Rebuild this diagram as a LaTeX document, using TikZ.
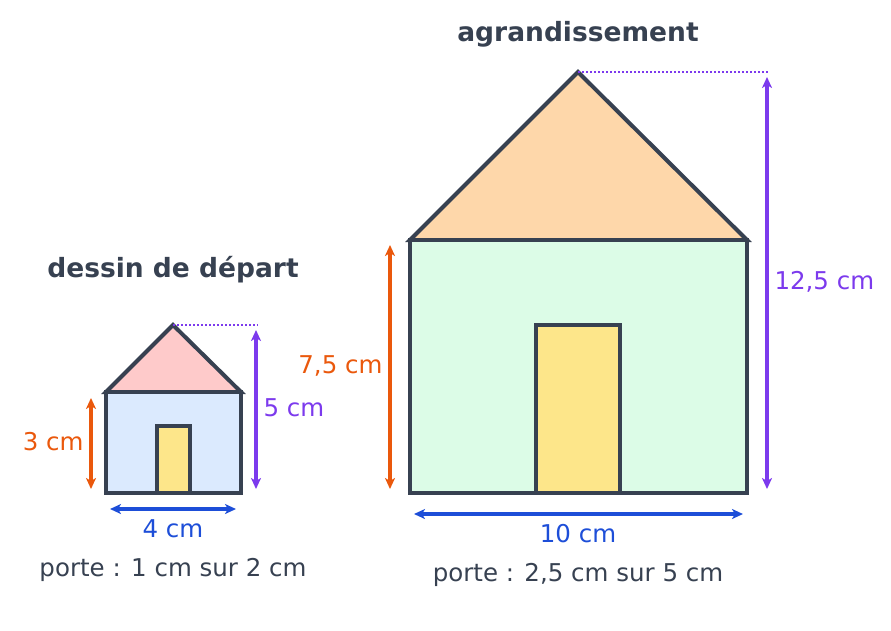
\documentclass[tikz,border=0pt]{standalone}
\usepackage{fontspec}
\setmainfont{DejaVu Sans}
\usepackage{xcolor}
\usetikzlibrary{arrows.meta}

\definecolor{ink}{HTML}{374151}
\definecolor{dimorange}{HTML}{EA580C}
\definecolor{dimpurple}{HTML}{7C3AED}
\definecolor{dimblue}{HTML}{1D4ED8}
\definecolor{wallblue}{HTML}{DBEAFE}
\definecolor{wallgreen}{HTML}{DCFCE7}
\definecolor{roofpink}{HTML}{FECACA}
\definecolor{rooforange}{HTML}{FED7AA}
\definecolor{dooryellow}{HTML}{FDE68A}

\begin{document}
\begin{tikzpicture}[x=1pt,y=-1pt,
  outline/.style={draw=ink,line width=4pt,line join=miter},
  dimline/.style={line width=3.2pt,{Stealth[length=11pt,width=10pt,inset=3pt]}-{Stealth[length=11pt,width=10pt,inset=3pt]}},
  guide/.style={dimpurple,line width=2pt,dotted},
  dimlabel/.style={font=\fontsize{24.5}{28}\selectfont},
  title/.style={font=\fontsize{26.5}{30}\selectfont\bfseries,text=ink}]
\useasboundingbox (0,0) rectangle (891,630);

% Small house
\coordinate (s-apex) at (173,325);
\draw[outline,fill=roofpink] (106,392) -- (s-apex) -- (241,392) -- cycle;
\draw[outline,fill=wallblue] (106,392) rectangle (241,493);
\draw[outline,fill=dooryellow] (157,493) rectangle (190,426);

\coordinate (s-top) at (258,325);
\draw[guide] (s-apex) -- (s-top);

\coordinate (s-wall1) at (91,398);
\coordinate (s-wall2) at (91,489);
\draw[dimline,dimorange] (s-wall1) -- (s-wall2);
\node[dimlabel,text=dimorange,anchor=east] (s-wall) at (87,442) {3 cm};

\coordinate (s-high1) at (256,330);
\coordinate (s-high2) at (256,489);
\draw[dimline,dimpurple] (s-high1) -- (s-high2);
\node[dimlabel,text=dimpurple,anchor=west] (s-high) at (260,408) {5 cm};

\coordinate (s-wide1) at (110,509);
\coordinate (s-wide2) at (236,509);
\draw[dimline,dimblue] (s-wide1) -- (s-wide2);
\node[dimlabel,text=dimblue] (s-wide) at (173,529) {4 cm};

\node[title] (s-title) at (173,270) {dessin de départ};
\node[dimlabel,text=ink] (s-door) at (173,570) {porte : 1 cm sur 2 cm};

% Enlarged house
\coordinate (b-apex) at (578,72);
\draw[outline,fill=rooforange] (410,240) -- (b-apex) -- (747,240) -- cycle;
\draw[outline,fill=wallgreen] (410,240) rectangle (747,493);
\draw[outline,fill=dooryellow] (536,493) rectangle (620,325);

\coordinate (b-top) at (768,72);
\draw[guide] (b-apex) -- (b-top);

\coordinate (b-wall1) at (390,245);
\coordinate (b-wall2) at (390,489);
\draw[dimline,dimorange] (b-wall1) -- (b-wall2);
\node[dimlabel,text=dimorange,anchor=east] (b-wall) at (386,366) {7,5 cm};

\coordinate (b-high1) at (767,77);
\coordinate (b-high2) at (767,489);
\draw[dimline,dimpurple] (b-high1) -- (b-high2);
\node[dimlabel,text=dimpurple,anchor=west] (b-high) at (771,282) {12,5 cm};

\coordinate (b-wide1) at (414,514);
\coordinate (b-wide2) at (743,514);
\draw[dimline,dimblue] (b-wide1) -- (b-wide2);
\node[dimlabel,text=dimblue] (b-wide) at (578,534) {10 cm};

\node[title] (b-title) at (578,34) {agrandissement};
\node[dimlabel,text=ink] (b-door) at (578,575) {porte : 2,5 cm sur 5 cm};

\end{tikzpicture}
\end{document}
